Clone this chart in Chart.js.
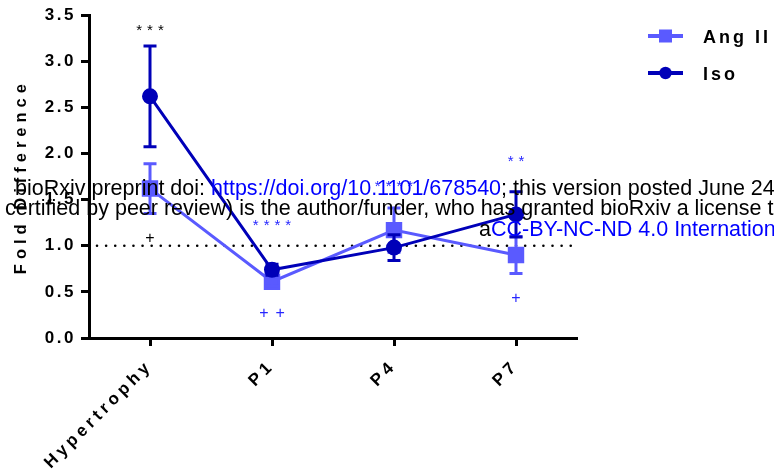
<!DOCTYPE html>
<html><head><meta charset="utf-8">
<script src="https://cdn.jsdelivr.net/npm/chart.js@4"></script>
<style>html,body{margin:0;padding:0;background:#fff}#wrap{width:774px;height:476px;position:relative}</style>
</head><body><div id="wrap"><canvas id="c" width="774" height="476"></canvas></div>
<script>
// ---- data ----
const categories = ['Hypertrophy', 'P1', 'P4', 'P7'];
const angII = [1.62, 0.61, 1.17, 0.90];
const angIIErr = [0.27, 0.05, 0.24, 0.20];
const iso = [2.62, 0.74, 0.98, 1.34];
const isoErr = [0.545, 0.06, 0.14, 0.245];
const yTickValues = [0, 0.5, 1.0, 1.5, 2.0, 2.5, 3.0, 3.5];
const referenceLevel = 1.0;
const sigLabels = ['***', '+', '****', '++', '****', '**', '+'];
const sigCategory = [0, 0, 1, 1, 2, 3, 3];
const sigValue = [3.29, 1.035, 1.17, 0.22, 1.59, 1.87, 0.38];
const sigGroup = ['both', 'both', 'ang', 'ang', 'ang', 'ang', 'ang'];
const seriesNames = ['Ang II', 'Iso'];
const yTitle = 'Fold Difference';

// ---- style ----
const ANG_COLOR = '#5a5aff';
const ISO_COLOR = '#0000b8';
const SIG_COLORS = { both: '#000000', ang: '#2626ff' };

const plotArea = { top: 15, left: 89, right: 197, bottom: 138 };

function withSpacing(scale, sp) {
  if (scale._spPatched) return;
  const orig = scale.drawLabels;
  scale.drawLabels = function (area) {
    const c = this.ctx; const prev = c.letterSpacing;
    c.letterSpacing = sp;
    orig.call(this, area);
    c.letterSpacing = prev;
  };
  scale._spPatched = true;
}

const overlay = {
  id: 'overlay',
  beforeDraw(chart) {
    chart.ctx.letterSpacing = '0px';
    withSpacing(chart.scales.x, '4px');
    withSpacing(chart.scales.y, '2.5px');
  },
  beforeDatasetsDraw(chart) {
    const { ctx, chartArea, scales: { y } } = chart;
    const py = y.getPixelForValue(referenceLevel);
    ctx.save();
    ctx.strokeStyle = '#000';
    ctx.lineWidth = 2.6;
    ctx.lineCap = 'round';
    ctx.setLineDash([0.01, 9.1]);
    ctx.beginPath();
    ctx.moveTo(chartArea.left + 8, py);
    ctx.lineTo(chartArea.right - 4, py);
    ctx.stroke();
    ctx.restore();
  },
  afterDatasetDraw(chart, args) {
    const { ctx, scales: { y } } = chart;
    const ds = chart.data.datasets[args.index];
    const errs = ds.errors;
    ctx.save();
    ctx.strokeStyle = ds.borderColor;
    ctx.lineWidth = 3;
    args.meta.data.forEach((pt, i) => {
      const x = pt.x;
      const top = y.getPixelForValue(ds.data[i] + errs[i]);
      const bot = y.getPixelForValue(ds.data[i] - errs[i]);
      ctx.beginPath();
      ctx.moveTo(x, top); ctx.lineTo(x, bot);
      ctx.moveTo(x - 6.5, top); ctx.lineTo(x + 6.5, top);
      ctx.moveTo(x - 6.5, bot); ctx.lineTo(x + 6.5, bot);
      ctx.stroke();
    });
    ctx.restore();
  },
  afterDraw(chart) {
    const { ctx, chartArea, scales: { x, y } } = chart;
    ctx.save();
    // significance marks
    sigLabels.forEach((t, i) => {
      const px = x.getPixelForValue(sigCategory[i]);
      const py = y.getPixelForValue(sigValue[i]);
      const isStar = t[0] === '*';
      ctx.font = (isStar ? '15px' : '16px') + ' Arial, "Liberation Sans", sans-serif';
      const sp = isStar ? 5 : 7;
      ctx.letterSpacing = sp + 'px';
      ctx.fillStyle = SIG_COLORS[sigGroup[i]];
      ctx.textAlign = 'left';
      ctx.textBaseline = 'alphabetic';
      const w = ctx.measureText(t).width - sp;
      ctx.fillText(t, px - w / 2, py);
    });
    // y title
    ctx.save();
    ctx.font = 'bold 16.5px Arial, "Liberation Sans", sans-serif';
    ctx.letterSpacing = '5px';
    ctx.fillStyle = '#000';
    ctx.translate(21, (chartArea.top + chartArea.bottom) / 2);
    ctx.rotate(-Math.PI / 2);
    ctx.textAlign = 'center';
    ctx.textBaseline = 'middle';
    ctx.fillText(yTitle, 0, 0);
    ctx.restore();
    // legend
    const lx = chartArea.right + 71;
    const rows = [
      { name: seriesNames[0], color: ANG_COLOR, style: 'rect', yy: 36 },
      { name: seriesNames[1], color: ISO_COLOR, style: 'circle', yy: 73 }
    ];
    rows.forEach(r => {
      ctx.strokeStyle = r.color; ctx.fillStyle = r.color; ctx.lineWidth = 4;
      ctx.beginPath(); ctx.moveTo(lx, r.yy); ctx.lineTo(lx + 35, r.yy); ctx.stroke();
      if (r.style === 'rect') ctx.fillRect(lx + 11, r.yy - 6.5, 13, 13);
      else { ctx.beginPath(); ctx.arc(lx + 17.5, r.yy, 6.2, 0, Math.PI * 2); ctx.fill(); }
      ctx.fillStyle = '#000';
      ctx.font = 'bold 18px Arial, "Liberation Sans", sans-serif';
      ctx.letterSpacing = '3px';
      ctx.textAlign = 'left'; ctx.textBaseline = 'middle';
      ctx.fillText(r.name, lx + 55, r.yy + 2);
    });
    // watermark
    ctx.letterSpacing = '0px';
    ctx.font = '21.5px Arial, "Liberation Sans", sans-serif';
    ctx.textAlign = 'left'; ctx.textBaseline = 'alphabetic';
    const segs = (parts, x0, yb) => {
      let cx = x0;
      parts.forEach(([t, c]) => { ctx.fillStyle = c; ctx.fillText(t, cx, yb); cx += ctx.measureText(t).width; });
    };
    segs([['bioRxiv preprint doi: ', '#000'], ['https://doi.org/10.1101/678540', '#0000ff'], ['; this version posted June 24, 2019. The copyright holder for this preprint (which was not', '#000']], 15, 195);
    segs([['certified by peer review) is the author/funder, who has granted bioRxiv a license to display the preprint in perpetuity. It is made available under', '#000']], 5, 215);
    segs([['a', '#000'], ['CC-BY-NC-ND 4.0 International license', '#0000ff'], ['.', '#000']], 479, 236);
    ctx.restore();
  }
};

new Chart(document.getElementById('c'), {
  type: 'line',
  data: {
    labels: categories,
    datasets: [
      { label: seriesNames[1], data: iso, errors: isoErr, borderColor: ISO_COLOR, backgroundColor: ISO_COLOR,
        borderWidth: 3, pointStyle: 'circle', pointRadius: 6.5, pointHoverRadius: 6.5, tension: 0, order: 0 },
      { label: seriesNames[0], data: angII, errors: angIIErr, borderColor: ANG_COLOR, backgroundColor: ANG_COLOR,
        borderWidth: 3, pointStyle: 'rect', pointRadius: 9.5, pointHoverRadius: 9.5, tension: 0, order: 1 }
    ]
  },
  options: {
    responsive: false,
    animation: false,
    devicePixelRatio: 1,
    layout: { padding: { top: plotArea.top, right: plotArea.right, left: 0, bottom: 0 } },
    plugins: { legend: { display: false }, tooltip: { enabled: false } },
    scales: {
      x: {
        type: 'category', offset: true,
        grid: { display: true, drawOnChartArea: false, drawTicks: true, tickLength: 8, tickWidth: 3, tickColor: '#000', offset: false },
        border: { display: true, color: '#000', width: 3 },
        ticks: { color: '#000', font: { family: 'Arial, "Liberation Sans", sans-serif', size: 17, weight: 'bold' },
                 minRotation: 45, maxRotation: 45, padding: 10 },
        afterFit(s) { s.height = plotArea.bottom; }
      },
      y: {
        min: 0, max: 3.5,
        afterBuildTicks(s) { s.ticks = yTickValues.map(v => ({ value: v })); },
        grid: { display: true, drawOnChartArea: false, drawTicks: true, tickLength: 8, tickWidth: 3, tickColor: '#000' },
        border: { display: true, color: '#000', width: 3 },
        ticks: { color: '#000', font: { family: 'Arial, "Liberation Sans", sans-serif', size: 17, weight: 'bold' },
                 padding: 5, callback: v => Number(v).toFixed(1) },
        afterFit(s) { s.width = plotArea.left; }
      }
    }
  },
  plugins: [overlay]
});
</script></body></html>
